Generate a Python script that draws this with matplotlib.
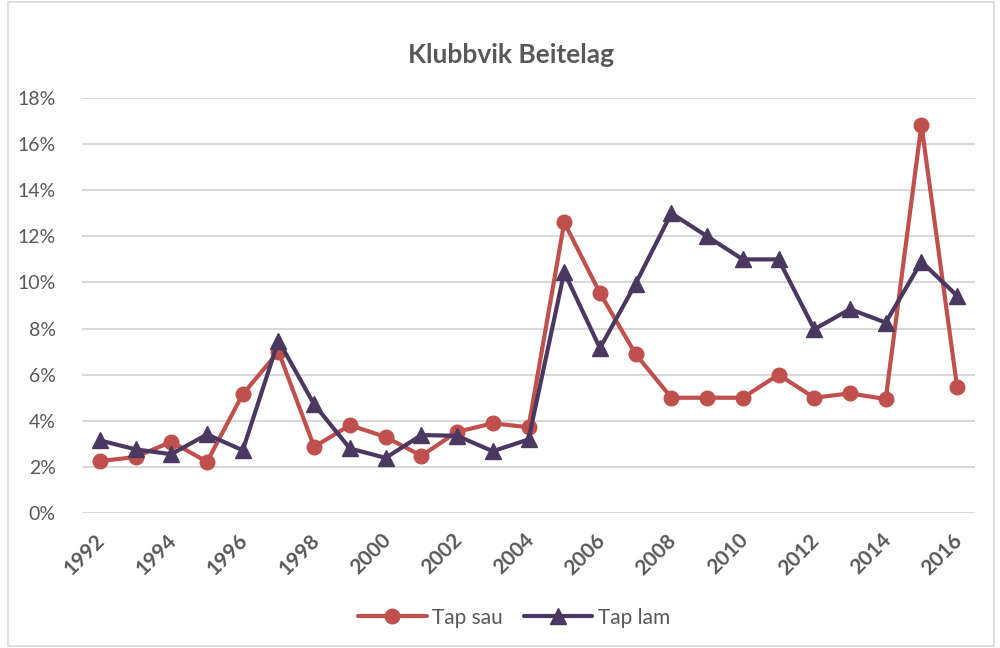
import matplotlib
matplotlib.use("Agg")
import matplotlib.pyplot as plt
from matplotlib.patches import Rectangle
from matplotlib.ticker import FuncFormatter, NullFormatter
from matplotlib.transforms import ScaledTranslation

years = list(range(1992, 2017))
tap_sau = [2.25, 2.43, 3.09, 2.22, 5.15, 7.0, 2.87, 3.81, 3.3, 2.48, 3.52, 3.89, 3.72,
           12.6, 9.54, 6.89, 5.0, 5.0, 5.0, 6.0, 5.0, 5.19, 4.94, 16.84, 5.45]
tap_lam = [3.15, 2.76, 2.55, 3.41, 2.72, 7.48, 4.71, 2.8, 2.39, 3.38, 3.35, 2.68, 3.19,
           10.45, 7.15, 9.95, 13.0, 12.0, 11.0, 11.0, 7.97, 8.84, 8.26, 10.9, 9.42]
tick_years = list(range(1992, 2017, 2))

plt.rcParams['font.family'] = ['Lato', 'DejaVu Sans']
gray = '#595959'
red = '#C0504D'
purple = '#4B3861'

fig = plt.figure(figsize=(10, 6.48), dpi=100)
fig.patches.append(Rectangle((0.008, 0.003), 0.986, 0.994, transform=fig.transFigure,
                             fill=False, edgecolor='#D9D9D9', linewidth=1.2))
ax = fig.add_axes([0.082, 0.2083, 0.893, 0.6405])

ax.plot(years, [v / 100 for v in tap_sau], color=red, lw=3.0, marker='o', ms=10.5,
        label='Tap sau', solid_capstyle='round', zorder=3)
ax.plot(years, [v / 100 for v in tap_lam], color=purple, lw=3.0, marker='^', ms=11,
        label='Tap lam', solid_capstyle='round', zorder=3)

ax.set_xlim(1991.5, 2016.5)
ax.set_ylim(0, 0.18)
ax.set_yticks([i / 100 for i in range(0, 19, 2)])
ax.yaxis.set_major_formatter(FuncFormatter(lambda v, p: f"{round(v*100)}%"))
ax.set_xticks(tick_years)
ax.xaxis.set_major_formatter(NullFormatter())
lab_tr = ax.get_xaxis_transform() + ScaledTranslation(-0.05, -0.17, fig.dpi_scale_trans)
for yv in tick_years:
    ax.text(yv, 0, str(yv), transform=lab_tr, rotation=45, ha='right', va='top',
            rotation_mode='anchor', fontweight='bold', fontsize=15, color=gray)
for lab in ax.get_yticklabels():
    lab.set_fontsize(14)
    lab.set_color(gray)
ax.tick_params(axis='both', length=0)
ax.tick_params(axis='y', pad=19)
ax.grid(axis='y', color='#D9D9D9', lw=1.5, zorder=0)
ax.set_axisbelow(True)
for s in ax.spines.values():
    s.set_visible(False)

fig.text(0.511, 0.915, 'Klubbvik Beitelag', ha='center', va='center', fontsize=19,
         fontweight='bold', color=gray)

leg = fig.legend(loc='center', bbox_to_anchor=(0.514, 0.047), ncol=2, frameon=False,
                 fontsize=15, handlelength=3.3, columnspacing=1.0, handletextpad=0.25)
for t in leg.get_texts():
    t.set_color(gray)

fig.savefig('out.png', dpi=100)
